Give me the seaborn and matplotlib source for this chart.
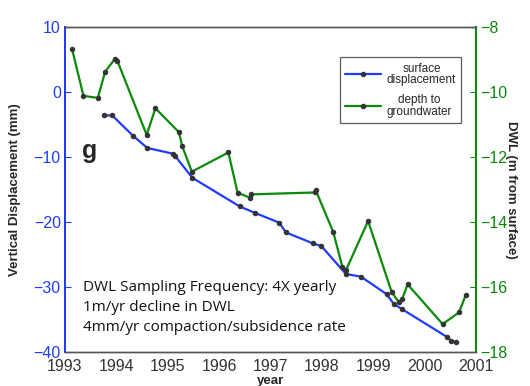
import matplotlib
matplotlib.use("Agg")
import matplotlib.pyplot as plt
import seaborn as sns
import pandas as pd

# Surface displacement record (mm)
disp_year = [1993.75, 1993.92, 1994.32, 1994.60, 1995.11, 1995.14, 1995.48,
             1996.40, 1996.70, 1997.17, 1997.30, 1997.83, 1997.99, 1998.47,
             1998.76, 1999.26, 1999.40, 1999.56, 2000.44, 2000.52, 2000.62]
disp_mm = [-3.6, -3.6, -6.7, -8.6, -9.5, -9.8, -13.2,
           -17.6, -18.6, -20.1, -21.6, -23.3, -23.7, -28.0,
           -28.4, -31.1, -32.6, -33.4, -37.7, -38.3, -38.5]

# Depth to groundwater (m from surface, negative down)
dwl_year = [1993.14, 1993.36, 1993.64, 1993.78, 1993.97, 1994.02, 1994.59,
            1994.76, 1995.22, 1995.28, 1995.47, 1996.18, 1996.36, 1996.60,
            1996.62, 1997.86, 1997.88, 1998.22, 1998.40, 1998.47, 1998.90,
            1999.36, 1999.50, 1999.56, 1999.67, 2000.35, 2000.67, 2000.80]
dwl_m = [-8.69, -10.12, -10.18, -9.38, -8.98, -9.04, -11.32,
         -10.50, -11.24, -11.66, -12.45, -11.86, -13.10, -13.25,
         -13.15, -13.09, -13.02, -14.30, -15.38, -15.48, -13.97,
         -16.16, -16.47, -16.38, -15.92, -17.14, -16.78, -16.25]

year_ticks = list(range(1993, 2002))
disp_ticks = [-40, -30, -20, -10, 0, 10]
dwl_ticks = [-18, -16, -14, -12, -10, -8]

notes = ["DWL Sampling Frequency: 4X yearly",
         "1m/yr decline in DWL",
         "4mm/yr compaction/subsidence rate"]

BLUE = "#1f3cff"
GREEN = "#0a8a0a"
DOT = "#333333"

sns.set_style("white")
plt.rcParams["font.family"] = ["Liberation Sans", "DejaVu Sans"]

fig = plt.figure(figsize=(5.30, 3.86), dpi=100)
ax = fig.add_axes([0.1226, 0.088, 0.7755, 0.842])
ax2 = ax.twinx()

df_disp = pd.DataFrame({"year": disp_year, "value": disp_mm})
df_dwl = pd.DataFrame({"year": dwl_year, "value": dwl_m})

sns.lineplot(data=df_disp, x="year", y="value", ax=ax, color=BLUE, lw=1.6,
             marker="o", markersize=3.2, markerfacecolor=DOT,
             markeredgecolor=DOT, label="surface\ndisplacement", legend=False)
sns.lineplot(data=df_dwl, x="year", y="value", ax=ax2, color=GREEN, lw=1.6,
             marker="o", markersize=3.2, markerfacecolor=DOT,
             markeredgecolor=DOT, label="depth to\ngroundwater", legend=False)

ax.set_xlim(1993, 2001)
ax.set_ylim(-40, 10)
ax2.set_ylim(-18, -8)
ax.set_xticks(year_ticks)
ax.set_xticklabels([str(y) for y in year_ticks])
ax.set_yticks(disp_ticks)
ax2.set_yticks(dwl_ticks)

ax.tick_params(axis="x", direction="in", length=4, labelsize=11.5,
               colors="#333333", pad=5, top=False)
ax.tick_params(axis="y", direction="in", length=4, labelsize=11.5,
               colors=BLUE, pad=3)
ax2.tick_params(axis="y", direction="in", length=4, labelsize=11.5,
                colors=GREEN, pad=3)

for a in (ax, ax2):
    for s in a.spines.values():
        s.set_linewidth(1.0)
    a.spines["top"].set_color("#555555")
    a.spines["bottom"].set_color("#555555")
    a.spines["left"].set_color(BLUE)
    a.spines["right"].set_color(GREEN)
    a.spines["left"].set_linewidth(1.4)
    a.spines["right"].set_linewidth(1.4)

ax.set_xlabel("year", fontsize=9.5, fontweight="bold", labelpad=1)
ax.set_ylabel("Vertical Displacement (mm)", fontsize=9.5, fontweight="bold",
              labelpad=9)
ax2.set_ylabel("DWL (m from surface)", fontsize=9.5, fontweight="bold",
               rotation=270, labelpad=7)

ax.text(0.042, 0.62, "g", transform=ax.transAxes, fontsize=18,
        fontweight="bold", va="center", ha="left")

for i, line in enumerate(notes):
    ax.text(0.044, 0.2 - i * 0.062, line, transform=ax.transAxes,
            fontsize=11, family=["Open Sans", "DejaVu Sans"],
            va="center", ha="left", color="#111111")

h1, l1 = ax.get_legend_handles_labels()
h2, l2 = ax2.get_legend_handles_labels()
leg = ax2.legend(h1 + h2, l1 + l2, loc="upper right",
                 bbox_to_anchor=(0.973, 0.918), fontsize=8.5,
                 frameon=True, fancybox=False, edgecolor="#333333",
                 handlelength=3.0, labelspacing=0.75, borderpad=0.45,
                 handletextpad=0.5, borderaxespad=0.3, markerfirst=True)
leg.get_frame().set_linewidth(0.9)
for t in leg.get_texts():
    t.set_multialignment("center")
    t.set_linespacing(0.9)

fig.savefig("out.png", dpi=100)
